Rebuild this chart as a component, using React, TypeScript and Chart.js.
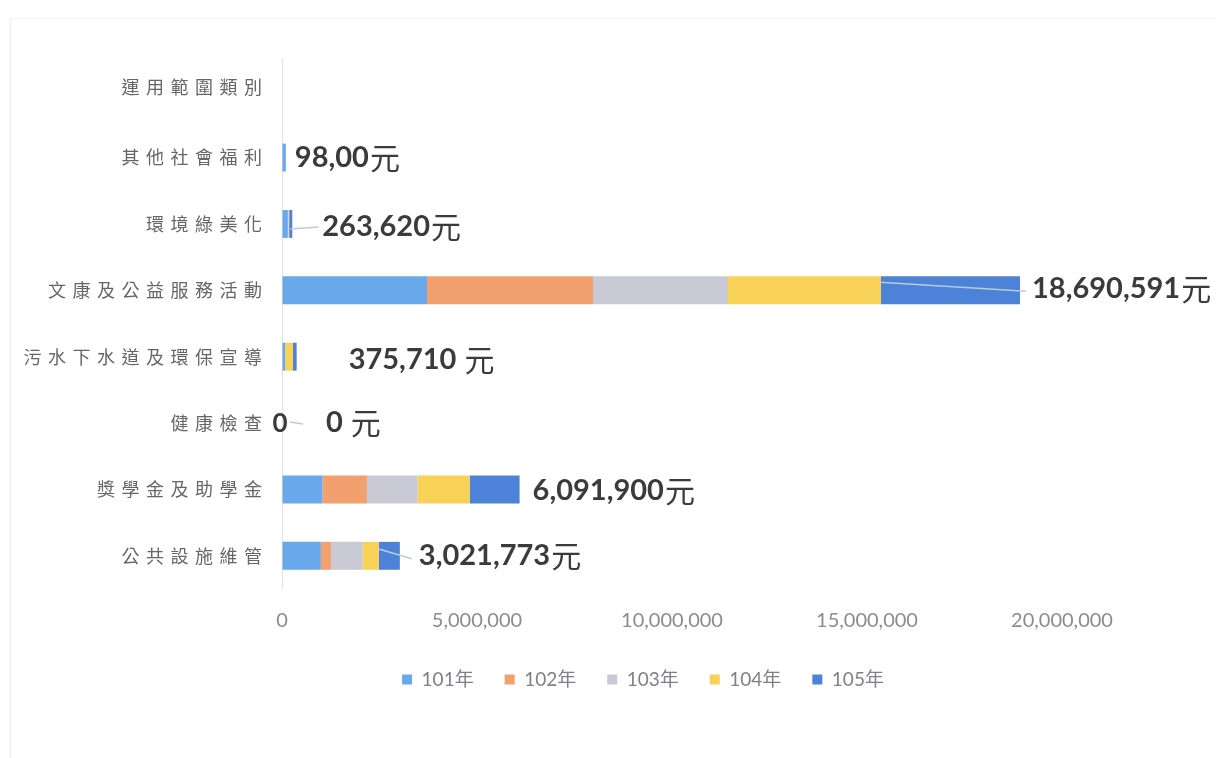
import React, { useEffect, useRef } from "react";
import { Chart, registerables } from "chart.js";

Chart.register(...registerables);

// ---- data ----
const categories = [
  "運用範圍類別",
  "其他社會福利",
  "環境綠美化",
  "文康及公益服務活動",
  "污水下水道及環保宣導",
  "健康檢查",
  "獎學金及助學金",
  "公共設施維管",
];
const seriesNames = ["101年", "102年", "103年", "104年", "105年"];
const y101 = [null, 98000, 150000, 3718000, 80000, 0, 1037000, 997000];
const y102 = [null, 0, 0, 4256000, 0, 0, 1141000, 258000];
const y103 = [null, 0, 20000, 3462000, 0, 0, 1296000, 814000];
const y104 = [null, 0, 13620, 3923000, 200000, 0, 1338000, 412000];
const y105 = [null, 0, 80000, 3564000, 95710, 0, 1279900, 540773];
const totalLabels = ["", "98,00元", "263,620元", "18,690,591元", "375,710 元", "0 元", "6,091,900元", "3,021,773元"];
const xTicks = [0, 5000000, 10000000, 15000000, 20000000];

// ---- styles ----
const colors = ["#6aa8ec", "#f2a06e", "#c9c9d6", "#f7d256", "#4c82d8"];
// label offset from the bar end: [dx, dy]
const labelOffsets = [
  [0, 0], [9, 0], [30, 3], [12, -2], [52, 3], [44, 0], [13, 1], [19, 0],
];
// leader lines: [startDx from bar end, startDy, endDx from label left, endDy] or null
const leaders: (number[] | null)[] = [
  null, null, [-2, 5, -4, 3], [-140, -8, -6, 1], null, [8, -1, -23, 1], null, [-22, -7, -7, 3],
];

const series = [y101, y102, y103, y104, y105];

const labelPlugin = {
  id: "customLabels",
  afterDraw(chart: any) {
    const ctx = chart.ctx as CanvasRenderingContext2D;
    const xs = chart.scales.x;
    const ys = chart.scales.y;
    const area = chart.chartArea;
    ctx.save();
    // category labels
    ctx.font = '18px "Noto Sans CJK TC"';
    ctx.fillStyle = "#666666";
    ctx.textAlign = "right";
    ctx.textBaseline = "middle";
    (ctx as any).letterSpacing = "6.5px";
    categories.forEach((c, i) => {
      const y = ys.getPixelForValue(i);
      ctx.fillText(c, area.left - 20 + 6.5, i === 0 ? y - 4 : y);
    });
    (ctx as any).letterSpacing = "0px";

    // total labels
    categories.forEach((c, i) => {
      const lbl = totalLabels[i];
      if (!lbl) return;
      const total = series.reduce((s, arr) => s + ((arr[i] as number) || 0), 0);
      const xe = xs.getPixelForValue(total);
      const yc = ys.getPixelForValue(i);
      const [dx, dy] = labelOffsets[i];
      const left = xe + dx;
      const y = yc + dy;
      const lead = leaders[i];
      if (lead) {
        ctx.strokeStyle = "#bccbdc";
        ctx.lineWidth = 1.6;
        ctx.beginPath();
        ctx.moveTo(xe + lead[0], yc + lead[1]);
        ctx.lineTo(left + lead[2], yc + lead[3]);
        ctx.stroke();
      }
      if (total === 0) {
        ctx.font = 'bold 26px Lato';
        ctx.fillStyle = "#3b3b3b";
        ctx.textAlign = "center";
        ctx.fillText("0", xe - 2, yc + 1);
      }
      const num = lbl.slice(0, -1);
      const unit = lbl.slice(-1);
      ctx.textAlign = "left";
      ctx.fillStyle = "#3b3b3b";
      ctx.font = 'bold 29px Lato';
      ctx.fillText(num, left, y);
      const w = ctx.measureText(num).width;
      ctx.font = '30px "Noto Sans CJK TC"';
      ctx.fillText(unit, left + w + 1, y);
    });
    ctx.restore();
  },
};

export default function App() {
  const ref = useRef<HTMLCanvasElement | null>(null);
  useEffect(() => {
    if (!ref.current) return;
    const chart = new Chart(ref.current, {
      type: "bar",
      data: {
        labels: categories,
        datasets: seriesNames.map((name, k) => ({
          label: name,
          data: series[k] as any,
          backgroundColor: colors[k],
          borderWidth: 0,
          categoryPercentage: 0.42,
          barPercentage: 1,
        })),
      },
      options: {
        indexAxis: "y",
        animation: false,
        responsive: false,
        devicePixelRatio: 1,
        layout: { padding: { left: 70, right: 0, top: 58, bottom: 59 } },
        plugins: {
          legend: {
            position: "bottom",
            labels: {
              boxWidth: 10,
              boxHeight: 10,
              padding: 31,
              color: "#7f8088",
              font: { family: 'Lato, "Noto Sans CJK TC"', size: 19 },
            },
          },
          tooltip: { enabled: false },
        },
        scales: {
          x: {
            type: "linear",
            stacked: true,
            min: 0,
            max: 20000000,
            position: "bottom",
            afterBuildTicks: (s: any) => {
              s.ticks = xTicks.map((v) => ({ value: v }));
            },
            afterFit: (s: any) => {
              s.height = s.height - 14;
            },
            grid: {
              display: true,
              drawTicks: false,
              color: (c: any) => (c.tick && c.tick.value === 0 ? "#e2e2e2" : "rgba(0,0,0,0)"),
            },
            border: { display: false },
            ticks: {
              padding: 20,
              color: "#8c8c8c",
              font: { family: "Lato", size: 20 },
              callback: (v: any) => Number(v).toLocaleString("en-US"),
            },
          },
          y: {
            type: "category",
            stacked: true,
            position: "left",
            grid: { display: false },
            border: { display: false },
            ticks: { display: false },
            afterFit: (s: any) => {
              s.width = 212;
            },
          },
          y2: {
            type: "linear",
            position: "right",
            display: true,
            grid: { display: false },
            border: { display: false },
            ticks: { display: false },
            afterFit: (s: any) => {
              s.width = 154;
            },
          },
        },
      } as any,
      plugins: [labelPlugin],
    });
    return () => chart.destroy();
  }, []);
  return (
    <div style={{ position: "fixed", left: 0, top: 0, width: 1216, height: 758, background: "#fff" }}>
      <div
        style={{
          position: "absolute",
          left: 10,
          top: 18,
          width: 1300,
          height: 800,
          borderLeft: "1px solid #ececec",
          borderTop: "1px solid #f3f3f3",
        }}
      />
      <canvas ref={ref} width={1216} height={758} style={{ position: "absolute", left: 0, top: 0 }} />
    </div>
  );
}
